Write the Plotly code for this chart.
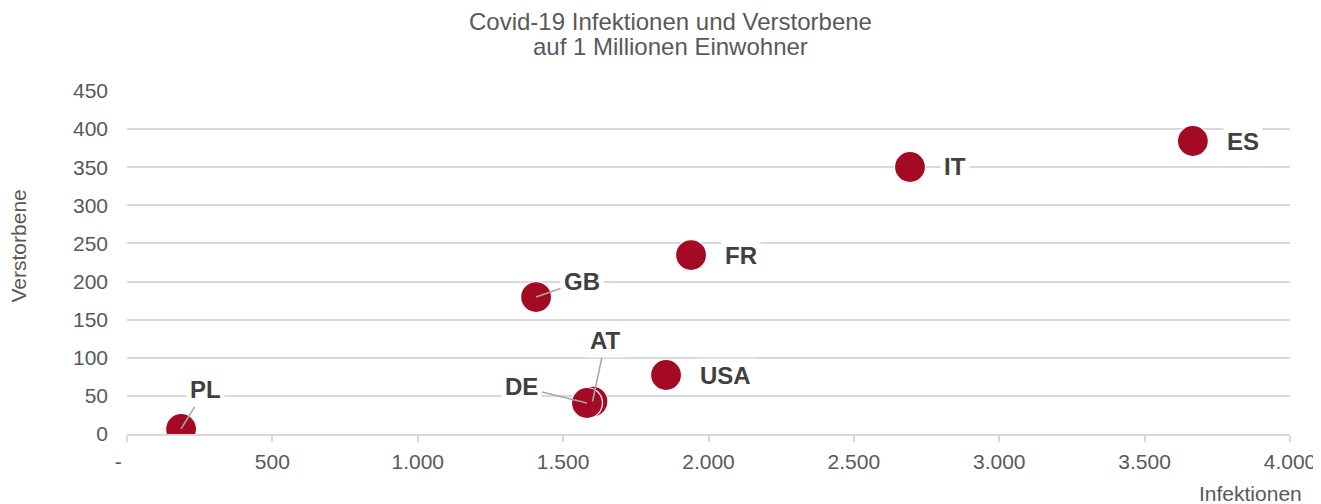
import plotly.graph_objects as go

countries = ["PL", "AT", "DE", "GB", "USA", "FR", "IT", "ES"]
infektionen = [186, 1601, 1582, 1407, 1854, 1940, 2693, 3666]
verstorbene = [6.6, 42.6, 40.7, 179.7, 77.4, 234.8, 350.3, 384.4]

# label offsets in pixels (label centre relative to marker), leader flag
label_dx = [24, 13, -65, 46, 59, 50, 45, 50]
label_dy = [-39, -61, -16, -16, 0, 0, 0, 0]
leader = [True, True, True, True, False, False, False, False]

title_lines = ["Covid-19 Infektionen und Verstorbene", "auf 1 Millionen Einwohner"]

x_tickvals = [0, 500, 1000, 1500, 2000, 2500, 3000, 3500, 4000]
x_ticktext = ["-\u00a0\u00a0\u00a0", "500", "1.000", "1.500", "2.000", "2.500", "3.000", "3.500", "4.000"]
y_tickvals = [0, 50, 100, 150, 200, 250, 300, 350, 400, 450]

FONT = "Liberation Sans, Arial, sans-serif"
MARK = "#A50A24"
GRID = "#D9D9D9"
TXT = "#595959"

# page body has an 8px margin; compensate so the plot lands where it should
W, H = 1313, 496

fig = go.Figure()
fig.add_trace(go.Scatter(
    x=infektionen, y=verstorbene, mode="markers",
    marker=dict(size=31, color=MARK, line=dict(color="white", width=1.2)),
    hoverinfo="text", text=countries, showlegend=False,
))

annotations = []
for c, xv, yv, dx, dy, ld in zip(countries, infektionen, verstorbene, label_dx, label_dy, leader):
    if ld:
        annotations.append(dict(
            x=xv, y=yv, xref="x", yref="y", text=c, showarrow=True,
            ax=dx, ay=dy, arrowhead=0, arrowwidth=1.5, arrowcolor="#A6A6A6",
            standoff=0, startstandoff=0,
            font=dict(family=FONT, size=24, color="#404040", weight="bold"),
            bgcolor="white", borderpad=3,
        ))
    else:
        annotations.append(dict(
            x=xv, y=yv, xref="x", yref="y", text=c, showarrow=False,
            xshift=dx, yshift=-dy,
            font=dict(family=FONT, size=24, color="#404040", weight="bold"),
            bgcolor="white", borderpad=3,
        ))

# two-line title as separate annotations (tighter line spacing than plotly's title)
for line, ys in zip(title_lines, [70, 45]):
    annotations.append(dict(
        text=line, xref="paper", yref="paper", x=0.5, y=1, xshift=-38, yshift=ys,
        xanchor="center", yanchor="middle", showarrow=False,
        font=dict(family=FONT, size=24, color=TXT),
    ))

annotations.append(dict(
    text="Infektionen", xref="paper", yref="paper", x=1.0, y=0, yshift=-59,
    xshift=14, xanchor="right", yanchor="middle", showarrow=False,
    font=dict(family=FONT, size=21, color=TXT),
))
annotations.append(dict(
    text="Verstorbene", xref="paper", yref="paper", x=0, y=0.5, xshift=-109,
    yshift=16, xanchor="center", yanchor="middle", textangle=-90, showarrow=False,
    font=dict(family=FONT, size=21, color=TXT),
))

fig.update_layout(
    width=W, height=H,
    margin=dict(l=119, r=31, t=83, b=70, autoexpand=False),
    paper_bgcolor="white", plot_bgcolor="white",
    font=dict(family=FONT, color=TXT),
    annotations=annotations,
    xaxis=dict(
        range=[0, 4000], tickvals=x_tickvals, ticktext=x_ticktext, automargin=False,
        showgrid=False, zeroline=False, showline=True, linecolor=GRID, linewidth=1.5,
        ticks="outside", ticklen=6, tickcolor=GRID, tickwidth=1.5,
        tickfont=dict(family=FONT, size=21, color=TXT), ticklabelstandoff=2,
    ),
    yaxis=dict(
        range=[0, 450], tickvals=y_tickvals, automargin=False,
        showgrid=True, gridcolor=GRID, gridwidth=1.5, zeroline=False, showline=False,
        ticks="", tickfont=dict(family=FONT, size=21, color=TXT), ticklabelstandoff=18,
    ),
)

fig.write_html("out.html")
